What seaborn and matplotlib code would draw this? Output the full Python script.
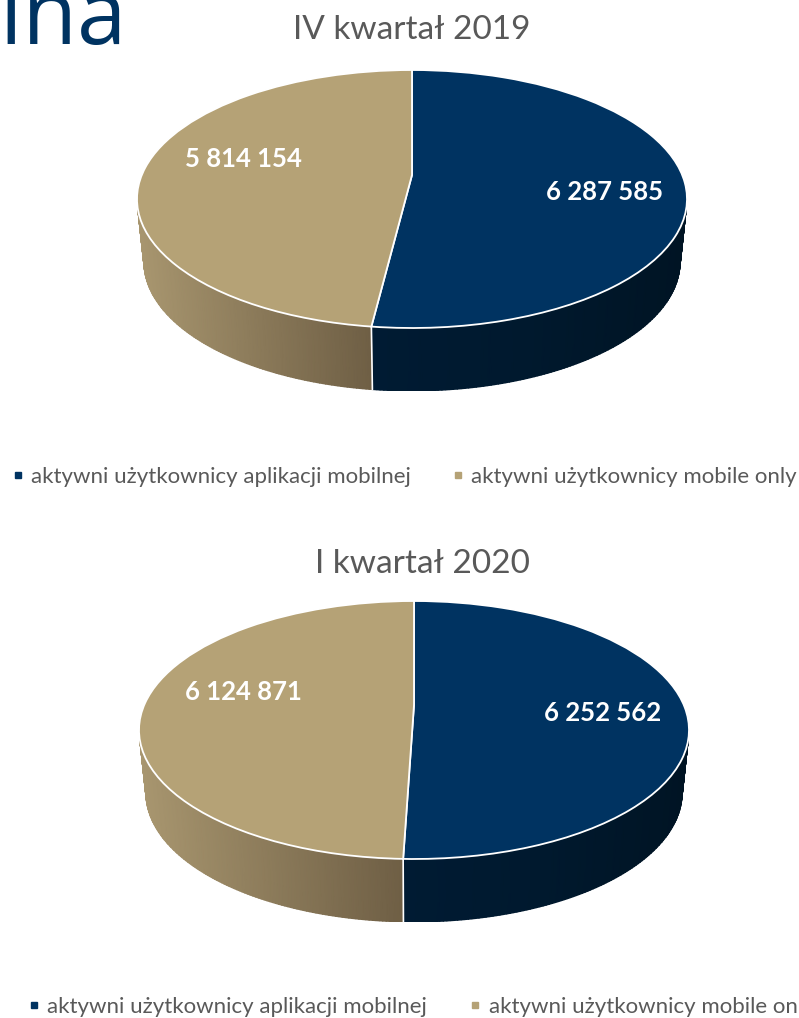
# wykresy kolowe 3D - uzytkownicy aplikacji mobilnej
import numpy as np
import seaborn as sns
import matplotlib.pyplot as plt
from matplotlib.colors import LinearSegmentedColormap
from matplotlib.lines import Line2D
from matplotlib.transforms import Transform

# dane
serie = ['aktywni użytkownicy aplikacji mobilnej', 'aktywni użytkownicy mobile only']
q4_2019 = [6287585, 5814154]
q1_2020 = [6252562, 6124871]
etykiety_q4 = ['6 287 585', '5 814 154']
etykiety_q1 = ['6 252 562', '6 124 871']

W, H = 799, 1018
GLEBOKOSC = 63 / 129
ZWEZENIE = 0.975  # dolna krawedz walca jest troche wezsza

sns.set_theme(style='white')
plt.rcParams['font.family'] = ['Lato', 'DejaVu Sans']
kolory = sns.color_palette(['#003361', '#b5a276'])
szary = '#595959'

# boki walca: jasniej od lewej, ciemniej w prawo
cien_tan = LinearSegmentedColormap.from_list('t', ['#a8966f', '#6f5f45'])
cien_navy = LinearSegmentedColormap.from_list('n', ['#001b33', '#00192e', '#001424'])


class Perspektywa(Transform):
    # rzut perspektywiczny: okrag zostaje okregiem, srodek idzie w gore
    input_dims = 2
    output_dims = 2

    def __init__(self, a):
        super().__init__()
        self.a = a

    def transform_non_affine(self, xy):
        xy = np.asarray(xy)
        m = 1 + self.a * xy[:, 1]
        return np.column_stack([xy[:, 0] * np.sqrt(1 - self.a ** 2) / m, (xy[:, 1] + self.a) / m])


def rysuj_bok(ax, start, stop, cmap, x_od, x_do):
    # start, stop w radianach, tylko dolna polowka elipsy
    t = np.linspace(start, stop, 120)
    x = np.cos(t)
    y = np.sin(t)
    X = np.vstack([x, x * ZWEZENIE])
    Y = np.vstack([y, y - GLEBOKOSC])
    C = np.vstack([(x - x_od) / (x_do - x_od)] * 2)
    ax.pcolormesh(X, Y, C, cmap=cmap, shading='gouraud', vmin=0, vmax=1, zorder=1)


def pie3d(fig, cx, top, wartosci, etykiety, poz_etykiet, tytul, tytul_xy, a):
    rx, ry = 275, 129
    dol = top + 2 * ry + 63
    ax = fig.add_axes([(cx - rx) / W, 1 - dol / H, 2 * rx / W, (dol - top) / H])
    persp = Perspektywa(a)

    # granica kawalkow liczona z danych, start od gory, zgodnie z zegarem
    udzial = wartosci[0] / sum(wartosci)
    kat0 = np.pi / 2 - 2 * np.pi * udzial
    xk, yk = persp.transform_non_affine(np.array([[np.cos(kat0), np.sin(kat0)]]))[0]
    kat = np.arctan2(yk, xk)

    rysuj_bok(ax, kat, 0, cien_navy, xk, 1)
    rysuj_bok(ax, -np.pi, kat, cien_tan, -1, xk)
    ax.plot([xk, xk * ZWEZENIE], [yk, yk - GLEBOKOSC], color='white', lw=1.2, zorder=2)

    wedges, _ = ax.pie(wartosci, colors=kolory, startangle=90, counterclock=False, radius=1,
                       wedgeprops={'edgecolor': 'white', 'linewidth': 1.3, 'zorder': 3})
    for w in wedges:
        w.set_transform(persp + ax.transData)
    ax.set_aspect('auto')
    ax.set_xlim(-1, 1)
    ax.set_ylim(-1 - GLEBOKOSC, 1)
    for c in ax.patches:
        c.set_clip_on(False)
    ax.axis('off')

    for tekst, (px, py) in zip(etykiety, poz_etykiet):
        fig.text(px / W, 1 - py / H, tekst, color='white', fontsize=18.5, fontweight='bold',
                 ha='center', va='center')
    fig.text(tytul_xy[0] / W, 1 - tytul_xy[1] / H, tytul, color=szary, fontsize=24,
             ha='center', va='center')


def legenda(fig, x, y, odstep):
    uchwyty = [Line2D([], [], ls='', marker='s', ms=4.5, color=k) for k in kolory]
    fig.legend(uchwyty, serie, ncol=2, loc='center left', bbox_to_anchor=(x / W, 1 - y / H),
               frameon=False, fontsize=16, labelcolor=szary, handlelength=0.5,
               handletextpad=0.35, columnspacing=odstep, borderpad=0, borderaxespad=0)


fig = plt.figure(figsize=(W / 100, H / 100), dpi=100)

pie3d(fig, 412, 70, q4_2019, etykiety_q4, [(605, 192), (243, 159)], 'IV kwartał 2019', (412, 30), 0.186)
pie3d(fig, 414, 601, q1_2020, etykiety_q1, [(603, 713), (243, 692)], 'I kwartał 2020', (422, 564), 0.194)

legenda(fig, 12, 477, 1.88)
legenda(fig, 28, 1007, 1.93)

# resztka tytulu slajdu
fig.text(0, 1 - 44 / H, 'ina', color='#003361', fontsize=64, family='Open Sans', ha='left', va='baseline')

fig.savefig('out.png', dpi=100)
